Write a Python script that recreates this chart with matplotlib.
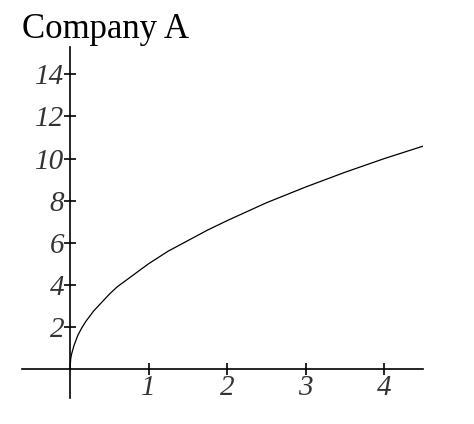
import matplotlib.pyplot as plt

# values
x_vals = [0.0, 0.01, 0.02, 0.05, 0.1, 0.15, 0.2, 0.3, 0.4, 0.5, 0.6, 0.8,
          1.0, 1.25, 1.5, 1.75, 2.0, 2.5, 3.0, 3.5, 4.0, 4.5]
y_vals = [0.0, 0.5, 0.7, 1.1, 1.6, 1.95, 2.25, 2.75, 3.15, 3.55, 3.9, 4.45,
          5.0, 5.6, 6.1, 6.6, 7.05, 7.9, 8.65, 9.35, 10.0, 10.6]

x_ticks = [1, 2, 3, 4]
y_ticks = [2, 4, 6, 8, 10, 12, 14]
title = "Company A"

W, H = 474, 424
fig = plt.figure(figsize=(W / 100, H / 100), dpi=100)
ax = fig.add_axes([22 / W, (H - 398) / H, (423 - 22) / W, (398 - 47) / H])

ax.plot(x_vals, y_vals, color='black', linewidth=0.9)

ax.set_xlim(-0.61, 4.49)
ax.set_ylim(-1.38, 15.3)

for side in ['top', 'right']:
    ax.spines[side].set_visible(False)
for side in ['left', 'bottom']:
    ax.spines[side].set_position(('data', 0))
    ax.spines[side].set_linewidth(1.2)

ax.set_xticks(x_ticks)
ax.set_yticks(y_ticks)
ax.set_xticklabels([str(t) for t in x_ticks])
ax.set_yticklabels([str(t) for t in y_ticks])
ax.tick_params(direction='inout', length=8, width=1.2, pad=0)
for lab in ax.get_xticklabels() + ax.get_yticklabels():
    lab.set_family('Liberation Serif')
    lab.set_style('italic')
    lab.set_fontsize(21)
    lab.set_color('#333333')

fig.text(22 / W, (H - 38) / H, title, family='Liberation Serif',
         fontsize=25, va='baseline', ha='left')

fig.savefig('out.png', dpi=100)
